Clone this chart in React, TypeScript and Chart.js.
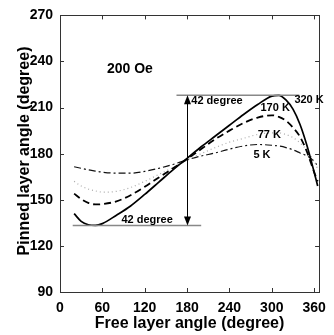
import React, { useEffect, useRef } from "react";
import { Chart, registerables } from "chart.js";

Chart.register(...registerables);

// Free layer angle (degree)
const freeAngle = [20, 30, 40, 50, 60, 80, 100, 120, 140, 160, 180, 200, 220, 240, 260, 280, 300, 310, 320, 330, 340, 350, 360, 365];
// Pinned layer angle (degree) per temperature
const k320 = [141, 136, 133.8, 133.3, 134.5, 140, 146, 153.5, 161.5, 169.5, 177, 184.5, 191.5, 198.5, 205.5, 212, 217.5, 218, 215, 209, 199, 185, 168, 159];
const k170 = [154, 150.5, 148, 147, 147.2, 149, 153, 158.5, 164.5, 170.5, 176.5, 183, 189.5, 195, 200, 203.5, 205, 204, 201.5, 197, 191, 181, 168, 162];
const k77 = [162, 159, 157, 155.8, 155, 155.5, 158, 162, 166.5, 171, 176, 180, 184, 187.5, 190, 192.5, 193.5, 193.5, 192.5, 190.5, 187, 182, 175, 170];
const k5 = [171.5, 170.5, 169.5, 168.7, 168, 167.3, 167.3, 168.5, 170.5, 173, 176, 178.5, 180.5, 183, 185, 186, 185.5, 185, 184, 182.5, 180.5, 178.5, 175, 172];

const xTicks = [0, 60, 120, 180, 240, 300, 360];
const yTicks = [90, 120, 150, 180, 210, 240, 270];

const FONT = '"Liberation Sans", Arial, Helvetica, sans-serif';

const mk = (label: string, ys: number[], color: string, width: number, dash: number[]) => ({
  label,
  data: freeAngle.map((x, i) => ({ x, y: ys[i] })),
  borderColor: color,
  borderWidth: width,
  borderDash: dash,
  pointRadius: 0,
  fill: false,
  cubicInterpolationMode: "monotone" as const,
});

const overlay = {
  id: "overlay",
  afterDraw(chart: any) {
    const ctx = chart.ctx as CanvasRenderingContext2D;
    const xs = chart.scales.x;
    const ys = chart.scales.y;
    const { left, right, top, bottom } = chart.chartArea;
    const X = (v: number) => xs.getPixelForValue(v);
    const Y = (v: number) => ys.getPixelForValue(v);
    ctx.save();
    // box
    ctx.strokeStyle = "#333";
    ctx.lineWidth = 1;
    ctx.setLineDash([]);
    ctx.strokeRect(Math.round(left) + 0.5, Math.round(top) + 0.5, Math.round(right - left), Math.round(bottom - top));
    // inward ticks
    const tl = 4;
    ctx.beginPath();
    xTicks.forEach((t) => {
      const px = Math.round(X(t)) + 0.5;
      ctx.moveTo(px, bottom);
      ctx.lineTo(px, bottom - tl);
      ctx.moveTo(px, top);
      ctx.lineTo(px, top + tl);
    });
    yTicks.forEach((t) => {
      const py = Math.round(Y(t)) + 0.5;
      ctx.moveTo(left, py);
      ctx.lineTo(left + tl, py);
      ctx.moveTo(right, py);
      ctx.lineTo(right - tl, py);
    });
    ctx.stroke();

    // horizontal reference lines
    ctx.strokeStyle = "#888";
    ctx.lineWidth = 1.5;
    ctx.beginPath();
    ctx.moveTo(X(165), Y(218));
    ctx.lineTo(X(339), Y(218));
    ctx.moveTo(X(18), Y(133.3));
    ctx.lineTo(X(200), Y(133.3));
    ctx.stroke();

    // vertical double arrow
    const ax = Math.round(X(180)) + 0.5;
    const yt = Y(218);
    const yb = Y(133.3);
    ctx.strokeStyle = "#000";
    ctx.fillStyle = "#000";
    ctx.lineWidth = 1;
    ctx.beginPath();
    ctx.moveTo(ax, yt + 6);
    ctx.lineTo(ax, yb - 6);
    ctx.stroke();
    ctx.beginPath();
    ctx.moveTo(ax, yt);
    ctx.lineTo(ax - 3.5, yt + 9);
    ctx.lineTo(ax + 3.5, yt + 9);
    ctx.closePath();
    ctx.fill();
    ctx.beginPath();
    ctx.moveTo(ax, yb);
    ctx.lineTo(ax - 3.5, yb - 9);
    ctx.lineTo(ax + 3.5, yb - 9);
    ctx.closePath();
    ctx.fill();

    // texts
    ctx.fillStyle = "#000";
    ctx.textBaseline = "middle";
    ctx.textAlign = "left";
    ctx.font = `bold 14px ${FONT}`;
    ctx.fillText("200 Oe", X(66.5), Y(235));
    ctx.font = `bold 11px ${FONT}`;
    ctx.fillText("42 degree", X(186), Y(214));
    ctx.fillText("42 degree", X(87), Y(137));
    ctx.fillText("320 K", X(332), Y(215));
    ctx.fillText("170 K", X(284), Y(210));
    ctx.fillText("77 K", X(280), Y(192));
    ctx.fillText("5 K", X(274), Y(179));

    // axis titles
    ctx.font = `bold 16px ${FONT}`;
    ctx.textAlign = "center";
    ctx.fillText("Free layer angle (degree)", (left + right) / 2, 324);
    ctx.save();
    ctx.translate(25, 151);
    ctx.rotate(-Math.PI / 2);
    ctx.fillText("Pinned layer angle (degree)", 0, 0);
    ctx.restore();
    ctx.restore();
  },
};

export default function App() {
  const ref = useRef<HTMLCanvasElement | null>(null);
  useEffect(() => {
    document.body.style.margin = "0";
    const canvas = ref.current;
    if (!canvas) return;
    const chart = new Chart(canvas, {
      type: "line",
      data: {
        datasets: [
          mk("320 K", k320, "#000", 1.7, []),
          mk("170 K", k170, "#000", 1.8, [7, 4]),
          mk("77 K", k77, "#aaa", 1.2, [1, 3]),
          mk("5 K", k5, "#111", 1.2, [7, 3, 2, 3]),
        ],
      },
      options: {
        responsive: false,
        animation: false,
        layout: { padding: { top: 14, right: 9, left: 0, bottom: 0 } },
        plugins: { legend: { display: false }, tooltip: { enabled: false } },
        scales: {
          x: {
            type: "linear",
            min: 0,
            max: 367,
            afterBuildTicks: (s: any) => {
              s.ticks = xTicks.map((v) => ({ value: v }));
            },
            afterFit: (s: any) => {
              s.height = 43;
            },
            grid: { display: false, drawTicks: false },
            border: { display: false },
            ticks: {
              padding: 8,
              color: "#000",
              maxRotation: 0,
              autoSkip: false,
              font: { family: FONT, size: 14, weight: "bold" },
            },
          },
          y: {
            type: "linear",
            min: 90,
            max: 270,
            afterBuildTicks: (s: any) => {
              s.ticks = yTicks.map((v) => ({ value: v }));
            },
            afterFit: (s: any) => {
              s.width = 60;
            },
            grid: { display: false, drawTicks: false },
            border: { display: false },
            ticks: {
              padding: 7,
              color: "#000",
              autoSkip: false,
              font: { family: FONT, size: 14, weight: "bold" },
            },
          },
        },
      },
      plugins: [overlay],
    });
    return () => chart.destroy();
  }, []);
  return <canvas ref={ref} width={334} height={335} style={{ display: "block", width: 334, height: 335 }} />;
}
